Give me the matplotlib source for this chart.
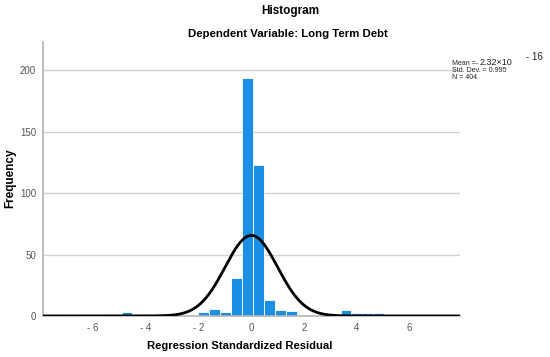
import numpy as np
import matplotlib
matplotlib.use("Agg")
import matplotlib.pyplot as plt

plt.rcParams["font.family"] = ["Liberation Sans", "DejaVu Sans"]

# histogram bins: index relative to the bin starting at BIN_ORIGIN
bin_index = [-12, -6, -5, -4, -3, -2, -1, 0, 1, 2, 3, 6, 8, 9, 10, 11]
counts    = [3, 1, 3, 6, 3, 31, 194, 123, 13, 5, 4, 1, 5, 2, 2, 2]
BIN_ORIGIN = 0.06
BIN_WIDTH  = 0.415

mean_resid = -2.32e-16
std_resid  = 0.995
n_obs      = 404

xticks  = [-6, -4, -2, 0, 2, 4, 6]
xlabels = ["- 6", "- 4", "- 2", "0", "2", "4", "6"]
yticks  = [0, 50, 100, 150, 200]

BAR   = "#1a8fe3"
GRID  = "#d2d2d2"
SPINE = "#b4b4b4"
TICK  = "#555555"
TXT   = "#222222"

fig = plt.figure(figsize=(5.5, 3.57), dpi=100, facecolor="white")
ax = fig.add_axes([0.078, 0.115, 0.758, 0.767])

lefts = BIN_ORIGIN + BIN_WIDTH * np.array(bin_index)
ax.bar(lefts, counts, width=BIN_WIDTH, align="edge", color=BAR,
       edgecolor="white", linewidth=0.6, zorder=2)

# normal curve scaled to counts
xs = np.linspace(-7.9, 7.9, 600)
pdf = np.exp(-0.5 * ((xs - mean_resid) / std_resid) ** 2) / (std_resid * np.sqrt(2 * np.pi))
ax.plot(xs, n_obs * 0.405 * pdf, color="black", lw=2.0, zorder=3)

ax.set_xlim(-7.9, 7.9)
ax.set_ylim(0, 223)
ax.set_xticks(xticks)
ax.set_xticklabels(xlabels)
ax.set_yticks(yticks)
ax.tick_params(length=0, labelsize=7, colors=TICK, pad=5)
ax.yaxis.grid(True, color=GRID, lw=1.0, zorder=0)
ax.set_axisbelow(True)
for s in ["top", "right"]:
    ax.spines[s].set_visible(False)
for s in ["left", "bottom"]:
    ax.spines[s].set_color(SPINE)
    ax.spines[s].set_linewidth(1.2)

fig.text(0.527, 0.968, "Histogram", ha="center", va="center",
         fontsize=8.5, fontweight="bold")
fig.text(0.524, 0.905, "Dependent Variable: Long Term Debt", ha="center",
         va="center", fontsize=8.2, fontweight="bold")
fig.text(0.018, 0.50, "Frequency", rotation=90, ha="center", va="center",
         fontsize=8.5, fontweight="bold")
fig.text(0.436, 0.030, "Regression Standardized Residual", ha="center",
         va="center", fontsize=8.1, fontweight="bold")

# stats box
fig.text(0.822, 0.822, "Mean =- ", fontsize=5, va="center", color=TXT)
fig.text(0.872, 0.824, "2.32×10", fontsize=6.5, va="center", color=TXT)
fig.text(0.957, 0.840, "- 16", fontsize=7, va="center", color=TXT)
fig.text(0.822, 0.802, f"Std. Dev. = {std_resid}", fontsize=5, va="center", color=TXT)
fig.text(0.822, 0.782, f"N = {n_obs}", fontsize=5, va="center", color=TXT)

fig.savefig("out.png", dpi=100, facecolor="white")
